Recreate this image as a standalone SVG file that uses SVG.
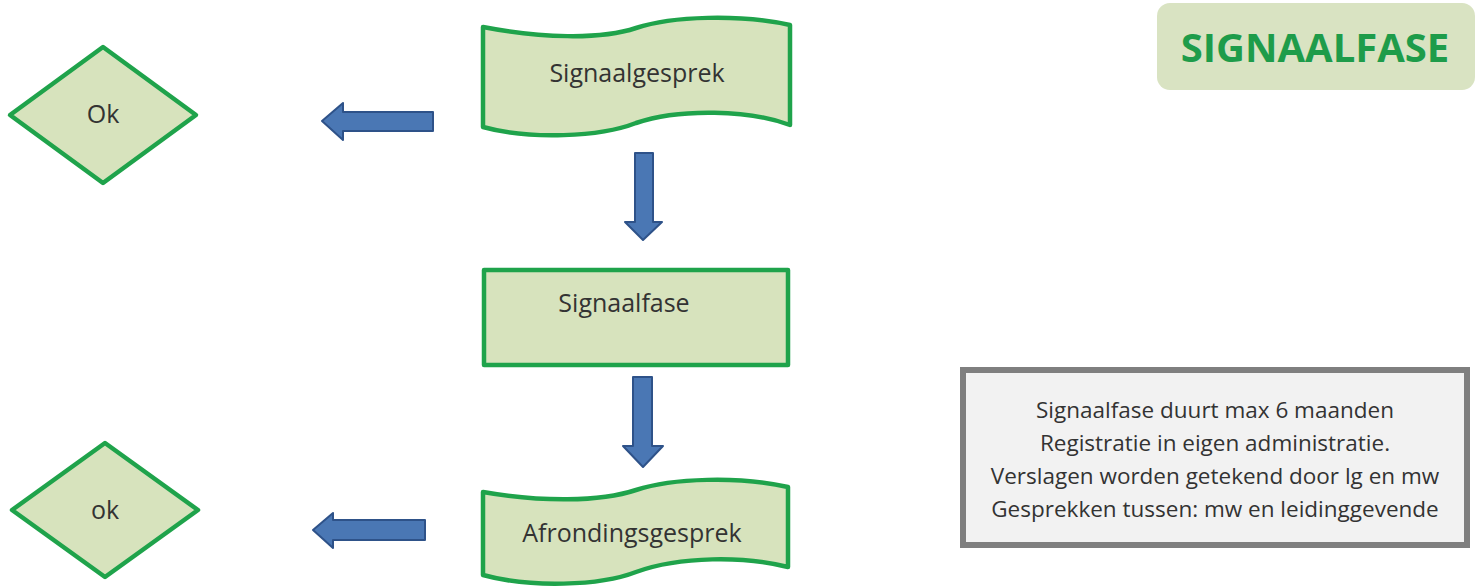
<svg xmlns="http://www.w3.org/2000/svg" width="1479" height="587" viewBox="0 0 1479 587">
<style>
.shape{fill:#d7e3bd;stroke:#1fa34b;stroke-width:4.5;stroke-linejoin:round}
.lbl{font-family:"Open Sans","Liberation Sans",sans-serif;font-size:25px;fill:#333;text-anchor:middle}
.note{font-family:"Open Sans","Liberation Sans",sans-serif;font-size:22.5px;fill:#333;text-anchor:middle}
.arrow{fill:#4a77b4;stroke:#2e5289;stroke-width:2;stroke-linejoin:round}
</style>
<rect width="1479" height="587" fill="#fff"/>
<g id="title">
<rect x="1157" y="3" width="318" height="87" rx="13" fill="#d9e3c2"/>
<text x="1315" y="62" font-family="'Open Sans','Liberation Sans',sans-serif" font-size="40" font-weight="bold" fill="#1e9c4a" text-anchor="middle">SIGNAALFASE</text>
</g>
<g id="signaalgesprek">
<path class="shape" d="M483,27 C540,38 600,40 636,28 C672,16 740,14 790,25 L790,125 C750,110 680,108 636,123 C600,137 530,140 483,127 Z"/>
<text class="lbl" x="637" y="82">Signaalgesprek</text>
</g>
<g id="signaalfase">
<rect class="shape" x="484" y="270" width="304" height="95" stroke-width="5"/>
<text class="lbl" x="624" y="312">Signaalfase</text>
</g>
<g id="afrondingsgesprek">
<path class="shape" d="M483,492 C540,502 600,502 636,490 C672,478 740,476 788,487 L788,567 C745,556 680,556 636,572 C600,586 530,588 483,575 Z"/>
<text class="lbl" x="632" y="542">Afrondingsgesprek</text>
</g>
<g id="ok1">
<polygon class="shape" points="103,47 196,115 103,183 10,115" stroke-width="5"/>
<text class="lbl" x="103" y="123" font-size="24">Ok</text>
</g>
<g id="ok2">
<polygon class="shape" points="105,443 198,510 105,577 12,510" stroke-width="5"/>
<text class="lbl" x="105" y="519" font-size="24">ok</text>
</g>
<g id="note">
<rect x="963" y="370" width="504" height="175" fill="#f2f2f2" stroke="#7f7f7f" stroke-width="6"/>
<text class="note" x="1215" y="418">Signaalfase duurt max 6 maanden</text>
<text class="note" x="1215" y="451">Registratie in eigen administratie.</text>
<text class="note" x="1215" y="484">Verslagen worden getekend door lg en mw</text>
<text class="note" x="1215" y="517">Gesprekken tussen: mw en leidinggevende</text>
</g>
<g id="connectors">
<polygon class="arrow" points="635,153 653,153 653,222 662,222 643,240 625,222 635,222"/>
<polygon class="arrow" points="633,377 652,377 652,446 663,446 643,467 623,446 633,446"/>
<polygon class="arrow" points="433,112 433,131 343,131 343,140 322,121 343,103 343,112"/>
<polygon class="arrow" points="425,520 425,540 333,540 333,548 313,530 333,513 333,520"/>
</g>
</svg>
